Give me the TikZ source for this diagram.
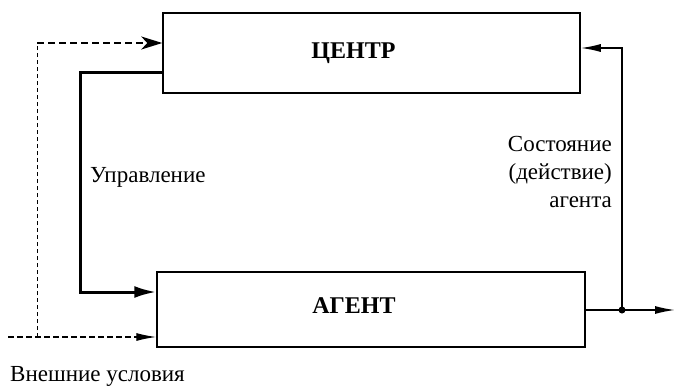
\documentclass[tikz,border=0pt]{standalone}
\usepackage{fontspec}
\setmainfont{Liberation Serif}
\usetikzlibrary{arrows.meta}

\begin{document}
\begin{tikzpicture}[x=1pt,y=-1pt,
  blok/.style={draw,line width=1.5pt,inner sep=0pt},
  zagl/.style={font=\bfseries\fontsize{24}{28}\selectfont,inner sep=0pt},
  lbl/.style={font=\fontsize{23}{28}\selectfont,inner sep=0pt},
  tip/.style={-{Latex[length=20pt,width=8pt]}}]
\useasboundingbox (0,0) rectangle (675,386);
% bloki
\node[blok,minimum width=417pt,minimum height=80pt] (centr) at (371.5,53) {};
\node[blok,minimum width=428pt,minimum height=75pt] (agent) at (371,309.5) {};
\node[zagl] (centrtxt) at ([xshift=-18pt]centr.center) {ЦЕНТР};
\node[zagl] (agenttxt) at ([xshift=-17pt,yshift=4pt]agent.center) {АГЕНТ};
% upravlenie
\coordinate (u1) at (80,72);
\coordinate (u2) at (80,292);
\draw[line width=3pt,-{Latex[length=22pt,width=12pt]}] (centr.west |- u1) -- (u1) -- (u2) -- (agent.west |- u2);
% vneshnie usloviya
\coordinate (vn) at (8,337);
\coordinate (vt) at (37,337);
\coordinate (vv) at (37,43);
\draw[line width=1.2pt,dash pattern=on 6pt off 3pt,tip] (vn) -- (agent.west |- vn);
\draw[line width=0.8pt,dash pattern=on 4pt off 3pt] (vt) -- (vv);
\draw[line width=1.5pt,dash pattern=on 7pt off 4pt,-{Stealth[length=21pt,width=13pt,inset=6pt]}] (vv) -- (centr.west |- vv);
% sostoyanie agenta
\coordinate (vyh) at (675,310);
\coordinate (tochka) at (622,310);
\coordinate (obr) at (622,48);
\draw[line width=1.5pt,tip] (agent.east |- vyh) -- (vyh);
\draw[line width=1.5pt,tip] (tochka) -- (obr) -- (centr.east |- obr);
\fill (tochka) circle (3.5pt);
% podpisi
\node[lbl,anchor=west] (upr) at (90,177) {Управление};
\node[lbl,align=right,anchor=east] (sost) at (612,172) {Состояние\\(действие)\\агента};
\node[lbl,anchor=west] (vnesh) at (10,376) {Внешние условия};
\end{tikzpicture}
\end{document}
